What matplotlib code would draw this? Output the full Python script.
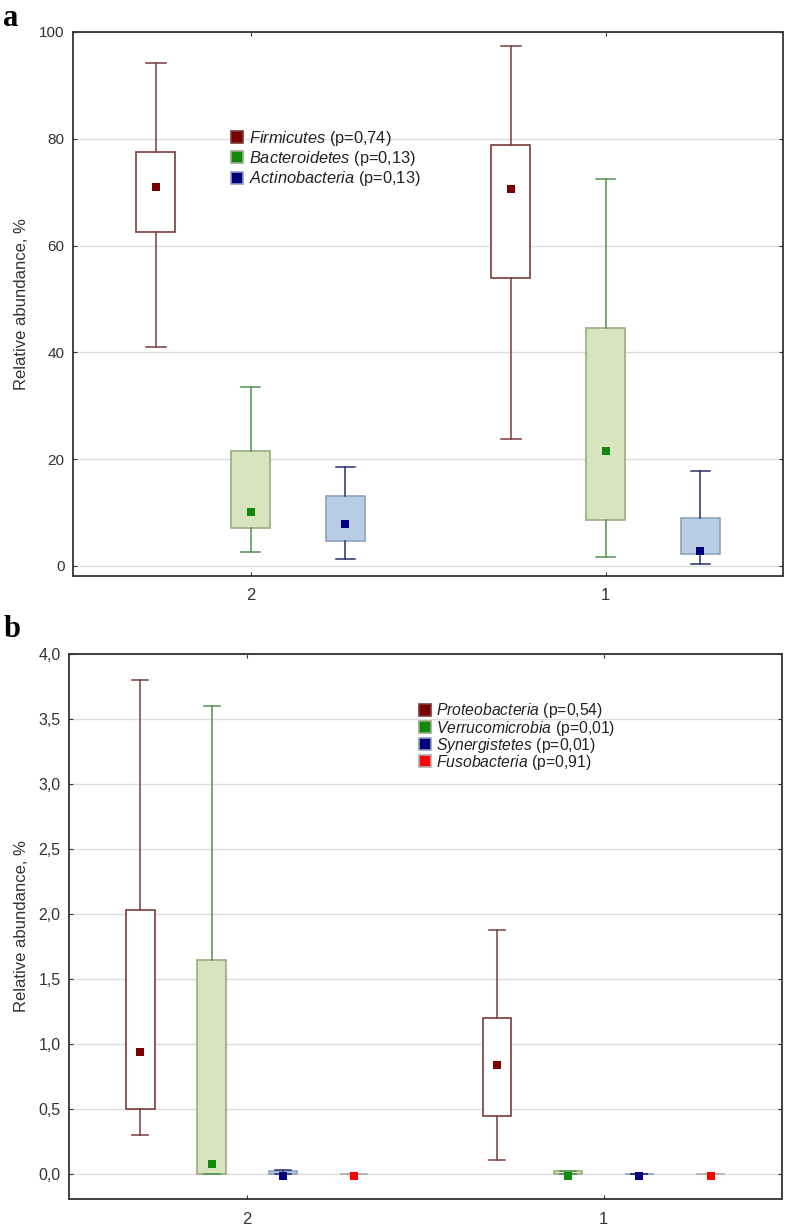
import matplotlib
matplotlib.use("Agg")
import matplotlib.pyplot as plt
from matplotlib.lines import Line2D
from matplotlib.ticker import FuncFormatter, MultipleLocator

plt.rcParams['font.family'] = ['Liberation Sans', 'DejaVu Sans']
plt.rcParams['mathtext.fontset'] = 'custom'
plt.rcParams['mathtext.it'] = 'Liberation Sans:italic'
plt.rcParams['mathtext.rm'] = 'Liberation Sans'

# ---------------- data ----------------
groups = ["2", "1"]

# panel a
a_taxa = ["Firmicutes", "Bacteroidetes", "Actinobacteria"]
a_p = ["0,74", "0,13", "0,13"]
# per taxon: [group2, group1]
a_whislo = [[41.0, 23.8], [2.6, 1.7], [1.3, 0.4]]
a_q1 = [[62.5, 54.0], [7.0, 8.5], [4.7, 2.2]]
a_q3 = [[77.5, 78.8], [21.5, 44.5], [13.0, 9.0]]
a_whishi = [[94.2, 97.4], [33.5, 72.5], [18.5, 17.8]]
a_med = [[71.0, 70.5], [10.0, 21.5], [7.8, 2.8]]

# panel b
b_taxa = ["Proteobacteria", "Verrucomicrobia", "Synergistetes", "Fusobacteria"]
b_p = ["0,54", "0,01", "0,01", "0,91"]
b_whislo = [[0.30, 0.11], [0.0, 0.0], [0.0, 0.0], [0.0, 0.0]]
b_q1 = [[0.50, 0.45], [0.0, 0.0], [0.0, 0.0], [0.0, 0.0]]
b_q3 = [[2.03, 1.20], [1.65, 0.025], [0.025, 0.004], [0.004, 0.004]]
b_whishi = [[3.80, 1.88], [3.60, 0.025], [0.03, 0.004], [0.004, 0.004]]
b_med = [[0.94, 0.84], [0.08, -0.01], [-0.01, -0.01], [-0.01, -0.01]]

# styles
box_face = ["white", "#d7e4bd", "#b9cde5", "#f0d8d8"]
box_edge = ["#7a3b3b", "#98ab82", "#8ea2bf", "#b0b0b0"]
whisk_col = ["#7a3b3b", "#4f8f4f", "#2b2f6b", "#b0b0b0"]
mark_col = ["#7b0000", "#0f8a0f", "#00007f", "#ff0000"]

fig = plt.figure(figsize=(7.87, 12.25), dpi=100)
axA = fig.add_axes([0.0928, 0.5298, 0.9022, 0.4441])
axB = fig.add_axes([0.0877, 0.0212, 0.9059, 0.4449])


def draw(ax, taxa, pvals, wlo, q1, q3, whi, med, offsets, width, capw, ylim, step, fmt,
         legend_anchor, legend_spacing, legend_size, ytick_size):
    for i, t in enumerate(taxa):
        stats = []
        pos = []
        for g in range(len(groups)):
            stats.append(dict(med=med[i][g], q1=q1[i][g], q3=q3[i][g],
                              whislo=wlo[i][g], whishi=whi[i][g], fliers=[], label=""))
            pos.append(g + offsets[i])
        ax.bxp(stats, positions=pos, widths=width, capwidths=capw, patch_artist=True,
               showfliers=False, manage_ticks=False,
               boxprops=dict(facecolor=box_face[i], edgecolor=box_edge[i], linewidth=1.2),
               whiskerprops=dict(color=whisk_col[i], linewidth=1.1),
               capprops=dict(color=whisk_col[i], linewidth=1.1),
               medianprops=dict(visible=False), zorder=3)
        ax.plot(pos, [med[i][g] for g in range(len(groups))], linestyle="none",
                marker="s", markersize=6.3, color=mark_col[i], markeredgewidth=0, zorder=4)
    ax.set_xlim(-0.5, 1.5)
    ax.set_ylim(*ylim)
    ax.set_xticks(range(len(groups)))
    ax.set_xticklabels(groups)
    ax.yaxis.set_major_locator(MultipleLocator(step))
    ax.yaxis.set_major_formatter(FuncFormatter(fmt))
    ax.grid(axis="y", color="#dedede", linewidth=1.0, zorder=0)
    ax.set_axisbelow(True)
    ax.tick_params(direction="in", length=3, top=True, right=True,
                   labelcolor="#333333", color="#333333")
    ax.tick_params(axis="y", labelsize=ytick_size, pad=6)
    ax.tick_params(axis="x", labelsize=12, pad=9)
    for s in ax.spines.values():
        s.set_color("#333333")
        s.set_linewidth(1.3)
    ax.set_ylabel("Relative abundance, %", fontsize=12, color="#333333", labelpad=7)
    handles = [Line2D([], [], linestyle="none", marker="s", markersize=8.5,
                      markerfacecolor=mark_col[i], markeredgecolor=box_edge[i] if i else "#7a3b3b",
                      markeredgewidth=1.2) for i in range(len(taxa))]
    labels = [r"$\mathit{%s}$ (p=%s)" % (t, p) for t, p in zip(taxa, pvals)]
    ax.legend(handles, labels, loc="upper left", bbox_to_anchor=legend_anchor, frameon=False,
              fontsize=legend_size, handlelength=0.8, handletextpad=0.3, borderpad=0,
              borderaxespad=0, labelspacing=legend_spacing, labelcolor="#222222")


draw(axA, a_taxa, a_p, a_whislo, a_q1, a_q3, a_whishi, a_med,
     offsets=[-0.267, 0.0, 0.267], width=0.11, capw=0.055, ylim=(-1.9, 100), step=20,
     fmt=lambda v, p: "%d" % round(v), legend_anchor=(0.222, 0.822), legend_spacing=0.08,
     legend_size=11.8, ytick_size=11)

draw(axB, b_taxa, b_p, b_whislo, b_q1, b_q3, b_whishi, b_med,
     offsets=[-0.3, -0.1, 0.1, 0.3], width=0.08, capw=0.045, ylim=(-0.19, 4.0), step=0.5,
     fmt=lambda v, p: ("%.1f" % v).replace(".", ","), legend_anchor=(0.49, 0.913),
     legend_spacing=-0.12, legend_size=11.3, ytick_size=11.5)

fig.text(0.004, 0.997, "a", fontsize=22, fontweight="bold", family="Liberation Serif",
         va="top", ha="left")
fig.text(0.004, 0.498, "b", fontsize=22, fontweight="bold", family="Liberation Serif",
         va="top", ha="left")

fig.savefig("out.png", dpi=100)
